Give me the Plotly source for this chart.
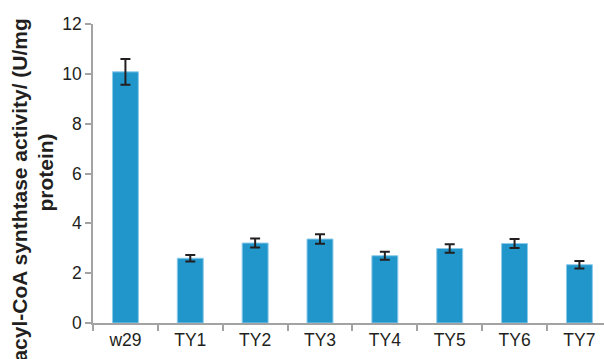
import plotly.graph_objects as go

categories = ["w29", "TY1", "TY2", "TY3", "TY4", "TY5", "TY6", "TY7"]
activity = [10.08, 2.60, 3.21, 3.37, 2.70, 2.99, 3.19, 2.34]
errors = [0.52, 0.13, 0.18, 0.19, 0.16, 0.17, 0.18, 0.15]
y_ticks = [0, 2, 4, 6, 8, 10, 12]

fig = go.Figure()
fig.add_trace(go.Bar(
    x=categories, y=activity, width=0.4,
    marker=dict(color="#2196CB", line=dict(color="#8CCBEA", width=1)),
    error_y=dict(type="data", array=errors, visible=True,
                 color="#231F20", thickness=2, width=5),
))

axis_color = "#A3A3A3"
fig.update_layout(
    width=604, height=359,
    margin=dict(l=93, r=0, t=24, b=36),
    paper_bgcolor="white", plot_bgcolor="white",
    showlegend=False,
    font=dict(family="Liberation Sans, Arial, sans-serif", color="#231F20"),
    xaxis=dict(
        type="category", range=[-0.5, 7.379],
        showline=True, linecolor=axis_color, linewidth=1.5,
        ticks="outside", tickson="boundaries", ticklen=6, tickcolor=axis_color, tickwidth=1.5,
        tickfont=dict(size=17.5, color="#231F20"),
        showgrid=False, zeroline=False,
    ),
    yaxis=dict(
        range=[0, 12], tickvals=y_ticks,
        showline=True, linecolor=axis_color, linewidth=1.5,
        ticks="outside", ticklen=6, tickcolor=axis_color, tickwidth=1.5,
        tickfont=dict(size=17.5, color="#231F20"),
        showgrid=False, zeroline=False,
    ),
    annotations=[
        dict(text="<b>acyl-CoA synthtase activity/ (U/mg</b>", textangle=-90,
             xref="paper", yref="paper", x=-0.1429, y=0.446,
             xanchor="center", yanchor="middle", showarrow=False,
             font=dict(size=21, color="#231F20")),
        dict(text="<b>protein)</b>", textangle=-90,
             xref="paper", yref="paper", x=-0.092, y=0.503,
             xanchor="center", yanchor="middle", showarrow=False,
             font=dict(size=21, color="#231F20")),
    ],
)

fig.write_html("out.html")
